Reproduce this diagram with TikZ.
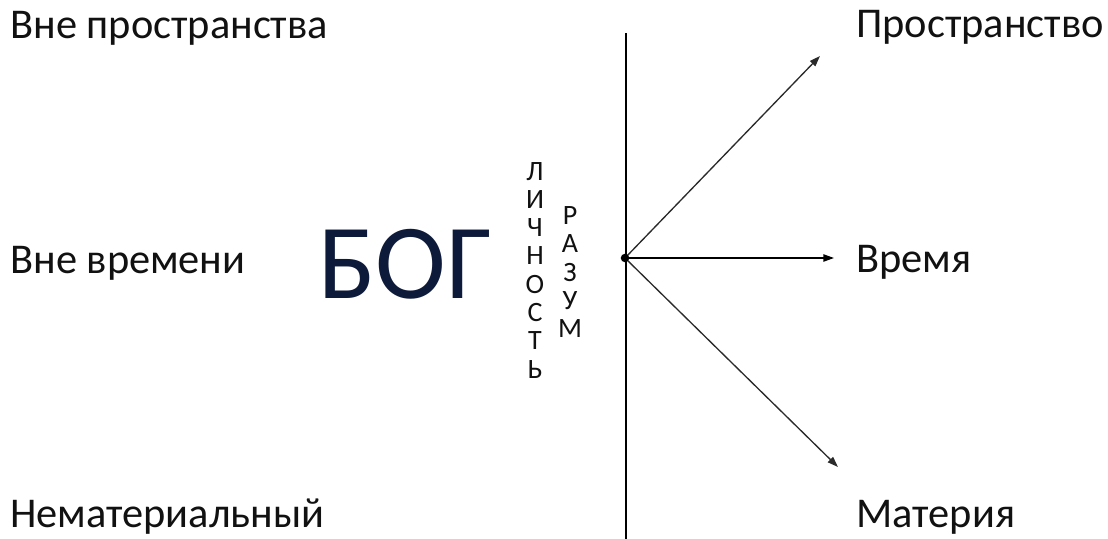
\documentclass[tikz,border=0pt]{standalone}
\usepackage{fontspec}
\setmainfont{Carlito}
\usetikzlibrary{arrows.meta}
\definecolor{navy}{HTML}{0E1A3A}
\definecolor{txt}{HTML}{111111}
\definecolor{arr}{HTML}{2A2A2A}
\begin{document}
\begin{tikzpicture}[x=0.75pt,y=-0.75pt,
  lbl/.style={anchor=base west,inner sep=0pt,text=txt,font=\fontsize{31.8}{38}\selectfont},
  vlet/.style={anchor=base,inner sep=0pt,text=txt,font=\fontsize{21}{24}\selectfont},
  ray/.style={draw=arr,line width=1pt,-{Triangle[length=8pt,width=5.5pt]}}]
\useasboundingbox (0,0) rectangle (1108,539);
\node[lbl] (t1) at (10,38) {Вне пространства};
\node[lbl] (t2) at (10,273) {Вне времени};
\node[lbl] (t3) at (10,527) {Нематериальный};
\node[lbl] (t4) at (856,37) {Пространство};
\node[lbl] (t5) at (856,272) {Время};
\node[lbl] (t6) at (856,527) {Материя};
\node[anchor=base west,inner sep=0pt,text=navy,font=\fontsize{80}{94}\selectfont] (god) at (318,298) {БОГ};
\foreach \c [count=\i] in {Л,И,Ч,Н,О,С,Т,Ь}
  \node[vlet] (l\i) at (535,{180+28.3*(\i-1)}) {\c};
\foreach \c [count=\i] in {Р,А,З,У,М}
  \node[vlet] (r\i) at (570,{224.5+28.3*(\i-1)}) {\c};
\coordinate (top) at (626,33);
\coordinate (bot) at (626,539);
\coordinate (o) at (625,258);
\coordinate (e1) at (820,56);
\coordinate (e2) at (834,258);
\coordinate (e3) at (838,467);
\draw[black,line width=1.1pt] (top) -- (bot);
\draw[ray] (o) -- (e1);
\draw[ray,draw=black] (o) -- (e2);
\draw[ray] (o) -- (e3);
\fill[black] (o) circle (3.2pt);
\end{tikzpicture}
\end{document}
